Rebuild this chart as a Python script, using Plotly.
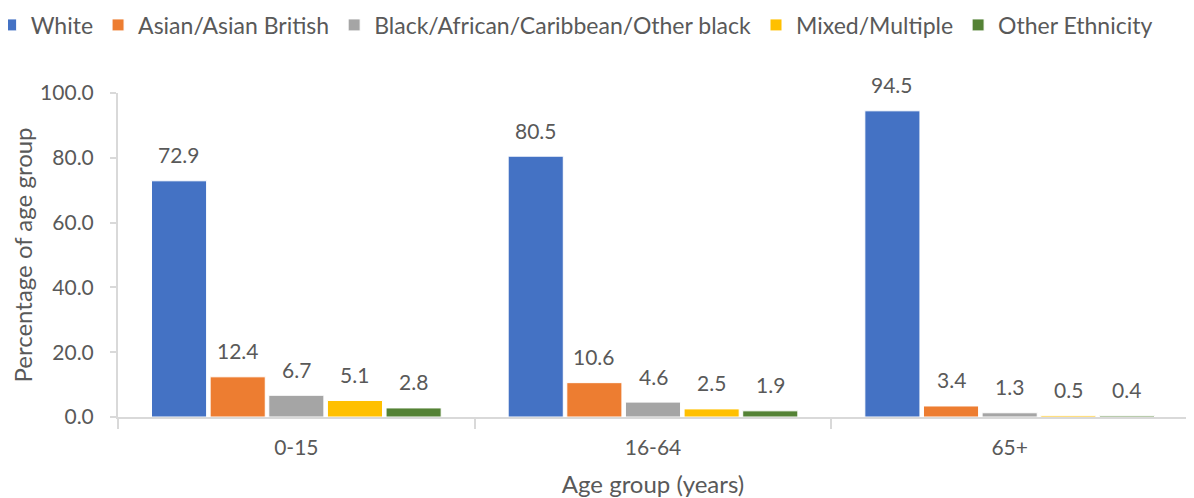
import plotly.graph_objects as go

age_groups = ["0-15", "16-64", "65+"]
ethnicities = ["White", "Asian/Asian British", "Black/African/Caribbean/Other black",
               "Mixed/Multiple", "Other Ethnicity"]
white = [72.9, 80.5, 94.5]
asian = [12.4, 10.6, 3.4]
black = [6.7, 4.6, 1.3]
mixed = [5.1, 2.5, 0.5]
other = [2.8, 1.9, 0.4]
series = [white, asian, black, mixed, other]
colors = ["#4472C4", "#ED7D31", "#A5A5A5", "#FFC000", "#548235"]

FONT = "Lato"
TXT = "#595959"

# page body has an 8px margin, so the figure is 8px smaller than the window
W, H = 1186, 490
L, R, T, B = 110, 6, 85, 81

fig = go.Figure()
for name, vals, col in zip(ethnicities, series, colors):
    fig.add_trace(go.Bar(x=age_groups, y=vals, name=name,
                         marker=dict(color=col, line=dict(color="white", width=1))))

# data labels sit a bit above each bar (Excel style)
bargap = 0.178
cat_w = (W - L - R) / 3
slot = cat_w * (1 - bargap) / len(series)
annotations = []
for i, vals in enumerate(series):
    for cat, v in zip(age_groups, vals):
        annotations.append(dict(x=cat, y=v, xref="x", yref="y", text=f"{v:.1f}",
                                showarrow=False, yanchor="middle",
                                xshift=(i - 2) * slot, yshift=26,
                                font=dict(family=FONT, size=21, color=TXT)))

fig.update_layout(
    width=W, height=H,
    margin=dict(l=L, r=R, t=T, b=B, autoexpand=False),
    paper_bgcolor="white", plot_bgcolor="white",
    barmode="group", bargap=bargap, bargroupgap=0.06,
    font=dict(family=FONT, size=21, color=TXT),
    annotations=annotations,
    legend=dict(orientation="h", x=-0.119, xanchor="left", y=1.21, yanchor="middle",
                font=dict(family=FONT, size=23, color=TXT),
                traceorder="normal"),
    xaxis=dict(
        showline=True, linecolor="#D9D9D9", linewidth=2,
        ticks="outside", tickson="boundaries", ticklen=10, tickcolor="#D9D9D9",
        tickwidth=2, showgrid=False, ticklabelstandoff=11,
        title=dict(text="Age group (years)", font=dict(size=24), standoff=22),
    ),
    yaxis=dict(
        range=[0, 100], dtick=20, tickformat=".1f",
        showline=True, linecolor="#D9D9D9", linewidth=2,
        ticks="outside", ticklen=6, tickcolor="#D9D9D9", tickwidth=2,
        showgrid=False, zeroline=False, ticklabelstandoff=12,
        title=dict(text="Percentage of age group", font=dict(size=24), standoff=6),
    ),
)

fig.write_html("out.html")
